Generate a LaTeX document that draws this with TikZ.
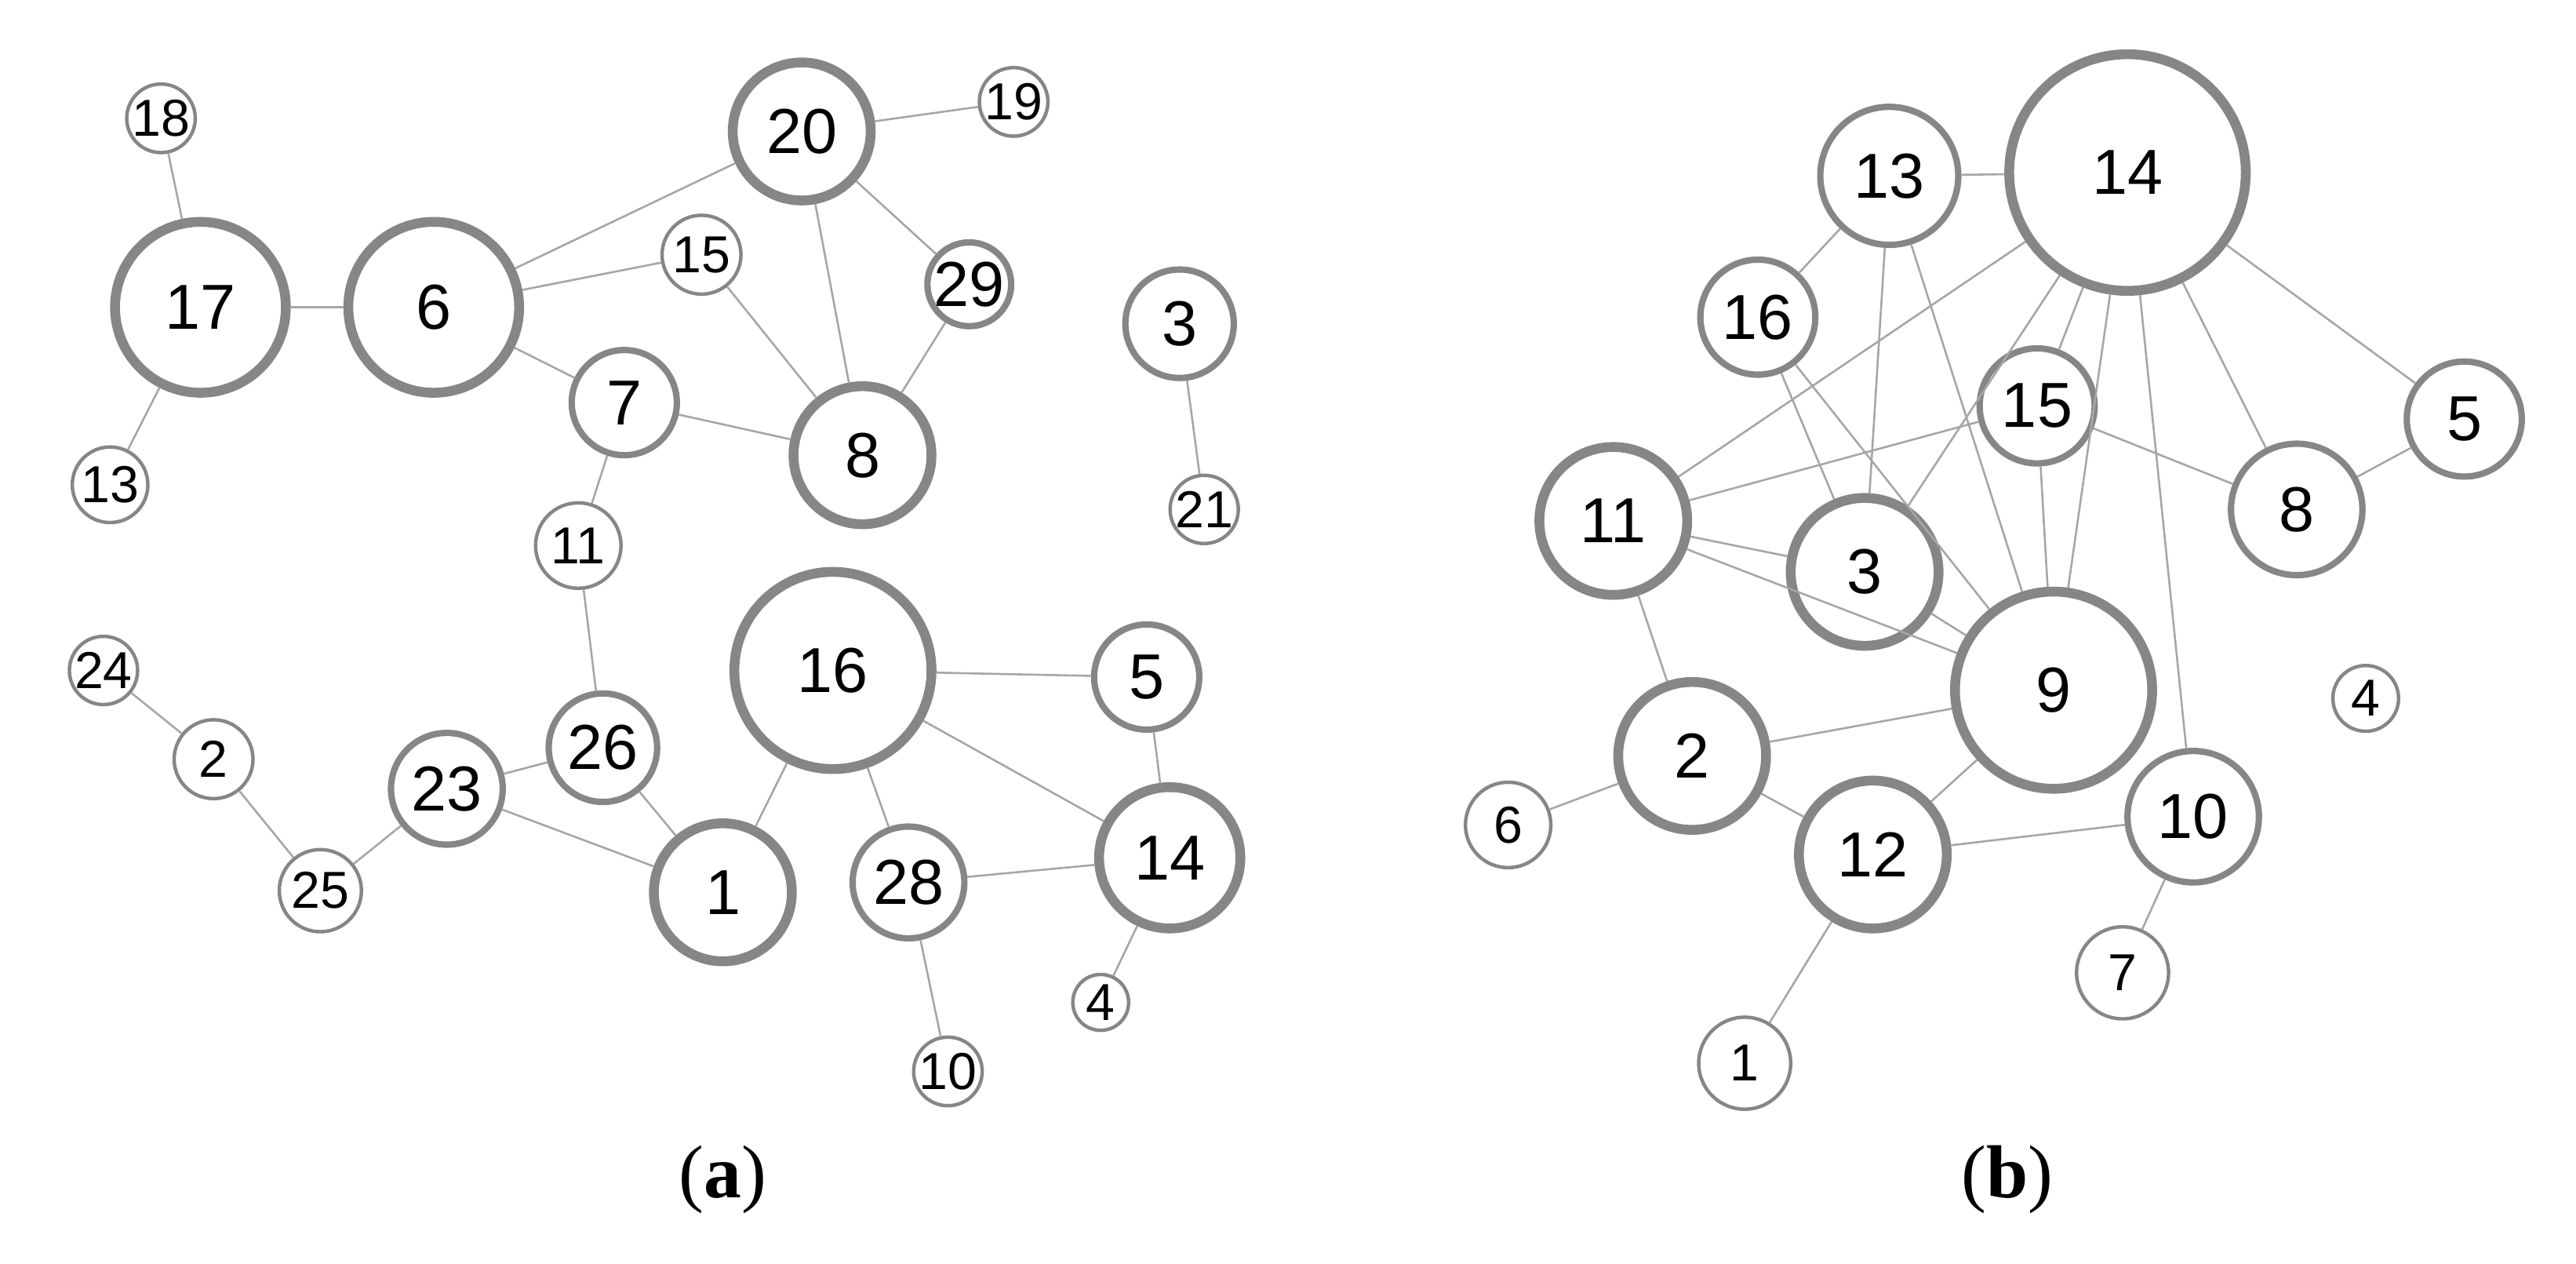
\documentclass[tikz,border=0pt]{standalone}
\usepackage{fontspec}
\setmainfont{Liberation Sans}
\newfontfamily\seriffont{Liberation Serif}
\usetikzlibrary{positioning}

\begin{document}
\begin{tikzpicture}[x=0.01cm, y=-0.01cm,
    d/.style={minimum size=#1*0.01cm},
    vtx/.style={draw=gray!95, circle, fill=white, inner sep=0pt, font=\fontsize{11}{13}\selectfont},
    heavy/.style={vtx, line width=1.7pt},
    mid/.style={vtx, line width=1.1pt},
    light/.style={vtx, line width=0.6pt, font=\fontsize{9}{11}\selectfont},
    edge/.style={draw=gray!70, line width=0.35pt}
]
\useasboundingbox (0,0) rectangle (1568,769);

% Panel (a)
\node[light, d=36] (a18) at (98,72) {18};
\node[heavy, d=104] (a17) at (122,187) {17};
\node[light, d=46] (a13) at (67,295) {13};
\node[heavy, d=104] (a6) at (264,187) {6};
\node[heavy, d=84] (a20) at (488,80) {20};
\node[light, d=34] (a19) at (617,62) {19};
\node[light, d=48] (a15) at (427,155) {15};
\node[mid, d=48] (a29) at (590,173) {29};
\node[mid, d=64] (a7) at (380,245) {7};
\node[heavy, d=84] (a8) at (525,277) {8};
\node[mid, d=66] (a3) at (718,197) {3};
\node[light, d=34] (a21) at (733,310) {21};
\node[light, d=52] (a11) at (352,332) {11};
\node[heavy, d=120] (a16) at (507,408) {16};
\node[mid, d=64] (a5) at (698,412) {5};
\node[light, d=32] (a24) at (63,408) {24};
\node[light, d=48] (a2) at (130,462) {2};
\node[mid, d=66] (a26) at (367,455) {26};
\node[mid, d=68] (a23) at (272,480) {23};
\node[light, d=50] (a25) at (195,542) {25};
\node[heavy, d=84] (a1) at (440,543) {1};
\node[mid, d=68] (a28) at (553,537) {28};
\node[heavy, d=86] (a14) at (712,522) {14};
\node[light, d=34] (a4) at (670,610) {4};
\node[light, d=36] (a10) at (577,652) {10};

\foreach \u/\v in {a18/a17, a17/a13, a17/a6, a6/a20, a6/a15, a6/a7, a20/a19,
    a20/a29, a20/a8, a15/a8, a29/a8, a7/a8, a7/a11, a11/a26, a3/a21, a24/a2,
    a2/a25, a25/a23, a23/a26, a23/a1, a26/a1, a1/a16, a16/a5, a16/a14,
    a16/a28, a5/a14, a28/a14, a14/a4, a28/a10}
  \draw[edge] (\u) -- (\v);

% Panel (b)
\node[mid, d=84] (b13) at (1150,107) {13};
\node[heavy, d=144] (b14) at (1295,105) {14};
\node[mid, d=70] (b16) at (1070,193) {16};
\node[mid, d=70] (b15) at (1240,247) {15};
\node[mid, d=70] (b5) at (1500,255) {5};
\node[heavy, d=90] (b11) at (982,317) {11};
\node[mid, d=80] (b8) at (1398,310) {8};
\node[heavy, d=90] (b3) at (1135,348) {3};
\node[heavy, d=120] (b9) at (1250,420) {9};
\node[light, d=40] (b4) at (1440,425) {4};
\node[heavy, d=90] (b2) at (1030,460) {2};
\node[light, d=52] (b6) at (918,502) {6};
\node[heavy, d=90] (b12) at (1140,520) {12};
\node[mid, d=80] (b10) at (1335,497) {10};
\node[light, d=56] (b7) at (1292,592) {7};
\node[light, d=56] (b1) at (1062,647) {1};

\foreach \u/\v in {b13/b14, b13/b16, b13/b3, b13/b9, b16/b3, b16/b9, b14/b11,
    b14/b3, b14/b15, b14/b9, b14/b8, b14/b5, b14/b10, b15/b11, b15/b8, b15/b9,
    b11/b3, b11/b9, b11/b2, b3/b9, b2/b9, b2/b6, b2/b12, b12/b9, b12/b10,
    b12/b1, b10/b7, b8/b5}
  \draw[edge] (\u) -- (\v);

% Captions
\node[font=\seriffont\fontsize{13}{15}\selectfont] (capa) at (440,718) {(\textbf{a})};
\node[font=\seriffont\fontsize{13}{15}\selectfont] (capb) at (1222,718) {(\textbf{b})};
\end{tikzpicture}
\end{document}
